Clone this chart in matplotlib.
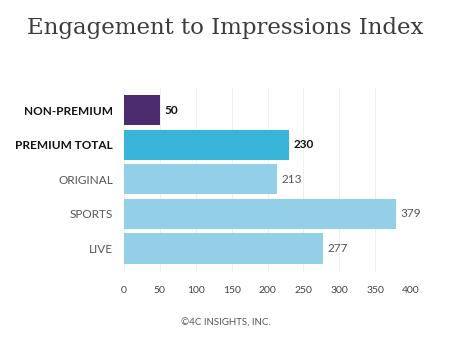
import matplotlib
matplotlib.use("Agg")
import matplotlib.pyplot as plt

# datos del grafico
categorias = ['NON-PREMIUM', 'PREMIUM TOTAL', 'ORIGINAL', 'SPORTS', 'LIVE']
valores = [50, 230, 213, 379, 277]
colores = ['#4b2a6e', '#3ab5da', '#93cfe6', '#93cfe6', '#93cfe6']
negrita = [True, True, False, False, False]
ticks_x = [0, 50, 100, 150, 200, 250, 300, 350, 400]

fig = plt.figure(figsize=(4.5, 3.5), dpi=100)
ax = fig.add_axes([124 / 450, 1 - 272 / 350, 287 / 450, 184 / 350])

pos = list(range(len(categorias)))
ax.barh(pos, valores, height=0.87, color=colores, zorder=2)
ax.set_ylim(4.68, -0.64)
ax.set_xlim(0, 400)

ax.set_xticks(ticks_x)
ax.set_xticklabels([str(t) for t in ticks_x], fontfamily='Lato', fontsize=7.5, color='#444444')
ax.tick_params(axis='x', length=0, pad=10)
ax.tick_params(axis='y', length=0, pad=8)
ax.set_yticks(pos)
ax.set_yticklabels(categorias, fontfamily='Lato', fontsize=8.5)
for lbl, b in zip(ax.get_yticklabels(), negrita):
    lbl.set_fontweight('bold' if b else 'normal')
    lbl.set_color('#111111' if b else '#555555')

ax.grid(axis='x', color='#ececec', linewidth=0.6, zorder=0)
for s in ax.spines.values():
    s.set_visible(False)

# etiquetas de valores
for p, v, b in zip(pos, valores, negrita):
    ax.text(v + 6, p, str(v), va='center', ha='left', fontfamily='Lato', fontsize=8.5,
            fontweight='bold' if b else 'normal', color='#111111' if b else '#555555')

fig.text(225 / 450, 1 - 28 / 350, 'Engagement to Impressions Index', ha='center', va='center',
         fontfamily='DejaVu Serif', fontsize=16.5, color='#3c3c3c')
fig.text(226 / 450, 1 - 323 / 350, '©4C INSIGHTS, INC.', ha='center', va='center',
         fontfamily='Lato', fontsize=7, color='#555555')

fig.savefig('out.png', dpi=100)
